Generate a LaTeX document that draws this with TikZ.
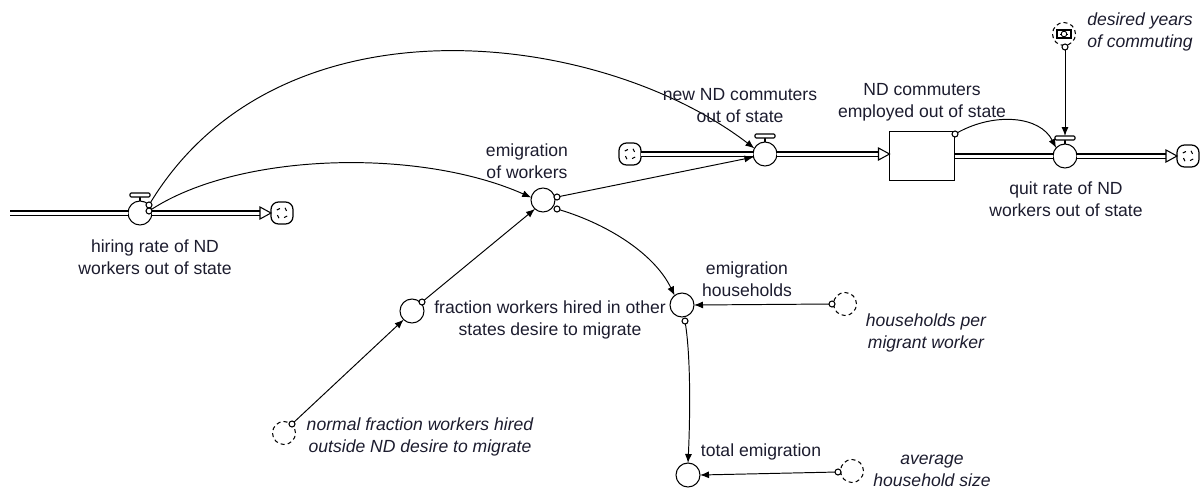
\documentclass[tikz,border=0pt]{standalone}
\usepackage{fontspec}
\setmainfont{Liberation Sans}
\usetikzlibrary{arrows.meta,calc}
\definecolor{ink}{HTML}{1C1C2E}

\begin{document}
\begin{tikzpicture}[x=0.02cm,y=-0.02cm,
  every node/.style={inner sep=0pt,outer sep=0pt},
  aux/.style={circle,draw,fill=white,minimum size=0.48cm,line width=0.6pt},
  shadow/.style={circle,draw,dash pattern=on 2.3pt off 1.8pt,minimum size=0.46cm,line width=0.6pt},
  src/.style={circle,draw,fill=white,minimum size=0.12cm,line width=0.6pt},
  conn/.style={line width=0.55pt,-{Latex[length=0.18cm,width=0.14cm]}},
  pipe/.style={double,double distance=0.06cm,line width=0.6pt},
  cloudbox/.style={draw,fill=white,rounded corners=0.15cm,minimum size=0.44cm,line width=0.7pt},
  stockbox/.style={draw,fill=white,minimum width=1.3cm,minimum height=0.98cm,line width=0.6pt},
  lbl/.style={align=center,font=\fontsize{10}{12.5}\selectfont,text=ink},
  ilbl/.style={align=center,font=\fontsize{10}{12.5}\selectfont\itshape,text=ink},
  handle/.style={draw,fill=white,rounded corners=0.6pt,line width=0.6pt},
  tri/.style={draw,fill=white,line width=0.6pt,line join=miter}
]
\useasboundingbox (0,0) rectangle (1201,491);

% ---------- stock, clouds and valves ----------
\node[stockbox] (st) at (922,156) {};
\node[cloudbox] (cl1) at (282,213) {};
\node[cloudbox] (cl2) at (630,154) {};
\node[cloudbox] (cl3) at (1188,156) {};
% cloud texture: small curled marks inside each cloud
\foreach \c in {cl1,cl2,cl3}{
  \foreach \a in {30,120,210,300}{
    \draw[line width=0.6pt] ($(\c)+(\a:6)$) -- ($(\c)+(\a+35:5)$);
  }
}
\coordinate (srcL) at (10,213);

\node[aux] (hv) at (140,213) {};
\node[aux] (nv) at (765,154) {};
\node[aux] (qv) at (1065,156) {};

% ---------- pipes ----------
\draw[pipe] (srcL) -- (hv.west);
\draw[pipe] (hv.east) -- ($(cl1.west)+(-10,0)$);
\draw[tri] ($(cl1.west)+(-11,-6)$) -- (cl1.west) -- ($(cl1.west)+(-11,6)$) -- cycle;

\draw[pipe] (cl2.east) -- (nv.west);
\draw[pipe] (nv.east) -- ($(st.west |- nv)+(-10,0)$);
\draw[tri] ($(st.west |- nv)+(-11,-6)$) -- (st.west |- nv) -- ($(st.west |- nv)+(-11,6)$) -- cycle;

\draw[pipe] (st.east |- qv) -- (qv.west);
\draw[pipe] (qv.east) -- ($(cl3.west)+(-10,0)$);
\draw[tri] ($(cl3.west)+(-11,-6)$) -- (cl3.west) -- ($(cl3.west)+(-11,6)$) -- cycle;

% valve handles
\foreach \v in {hv,nv,qv}{
  \draw[line width=0.6pt] (\v.north) -- ++(0,-4);
  \draw[handle] ($(\v.north)+(-10,-4)$) rectangle ($(\v.north)+(10,-8)$);
}
\coordinate (qh) at ($(qv.north)+(0,-8)$);

% ---------- auxiliaries and constants ----------
\node[aux] (em) at (543,200) {};
\node[aux] (fr) at (412,311) {};
\node[aux] (eh) at (682,305) {};
\node[aux] (te) at (688,475) {};

\node[shadow] (nf) at (284,433) {};
\node[shadow] (hp) at (845,304) {};
\node[shadow] (ah) at (852,471) {};
\node[shadow] (dy) at (1064,34) {};
\draw[line width=0.6pt] ($(dy)+(-7,-4)$) rectangle ($(dy)+(7,4)$);
\draw[line width=0.5pt] ($(dy)+(-4,0)$) -- ($(dy)+(4,0)$);
\draw[line width=0.5pt,fill=white] (dy) circle (1.6pt);

% ---------- connector sources ----------
\node[src] (shv1) at (149,205) {};
\node[src] (shv2) at (149,211) {};
\node[src] (sem1) at (557,197) {};
\node[src] (sem2) at (557,209) {};
\node[src] (sfr) at (422,302) {};
\node[src] (snf) at (292,424) {};
\node[src] (shp) at (832,304) {};
\node[src] (seh) at (685,321) {};
\node[src] (sah) at (838,472) {};
\node[src] (sst) at (955,134) {};
\node[src] (sdy) at (1065,47) {};

% ---------- connectors ----------
\draw[conn] (shv1) .. controls (280,-10) and (600,30) .. (nv.152);
\draw[conn] (shv2) .. controls (240,152) and (420,148) .. (em.168);
\draw[conn] (sem1) -- (nv.195);
\draw[conn] (sem2) .. controls (610,225) and (655,255) .. (eh.128);
\draw[conn] (sfr) -- (em.228);
\draw[conn] (snf) -- (fr.226);
\draw[conn] (shp) -- (eh.0);
\draw[conn] (seh) .. controls (691,360) and (690,420) .. (te.north);
\draw[conn] (sah) -- (te.east);
\draw[conn] (sst) .. controls (995,112) and (1040,116) .. (qv.138);
\draw[conn] (sdy) -- (qh);

% ---------- labels ----------
\node[lbl] (lhv) at (155,257) {hiring rate of ND\\workers out of state};
\node[lbl] (lem) at (527,161) {emigration\\of workers};
\node[lbl] (lnv) at (740,106) {new ND commuters\\out of state};
\node[lbl] (lst) at (922,102) {ND commuters\\employed out of state};
\node[lbl] (lqv) at (1066,199) {quit rate of ND\\workers out of state};
\node[ilbl] (ldy) at (1140,32) {desired years\\of commuting};
\node[lbl] (lfr) at (550,320) {fraction workers hired in other\\states desire to migrate};
\node[lbl] (leh) at (747,279) {emigration\\households};
\node[ilbl] (lhp) at (926,333) {households per\\migrant worker};
\node[ilbl] (lnf) at (420,437) {normal fraction workers hired\\outside ND desire to migrate};
\node[lbl] (lte) at (761,452) {total emigration};
\node[ilbl] (lah) at (932,471) {average\\household size};
\end{tikzpicture}
\end{document}
